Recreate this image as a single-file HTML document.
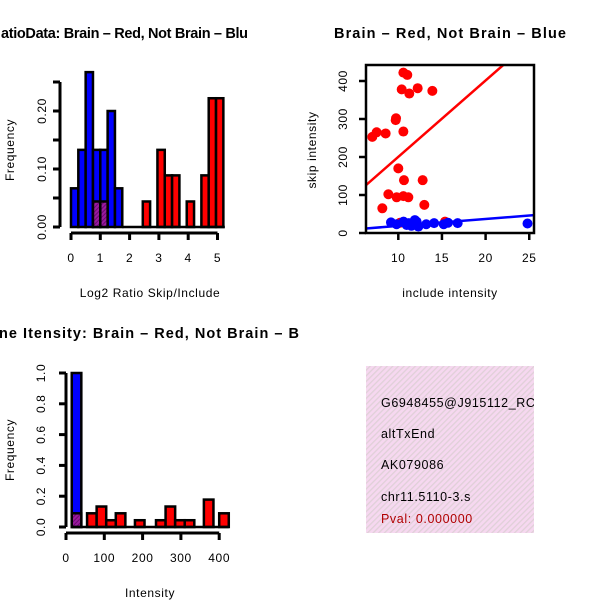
<!DOCTYPE html>
<html><head><meta charset="utf-8"><style>
html,body{margin:0;padding:0;background:#fff}
svg{display:block;font-family:"Liberation Sans",sans-serif}
svg text{letter-spacing:0.6px}
svg text.ttl{letter-spacing:0}
</style></head><body>
<svg id="s" width="600" height="600" viewBox="0 0 600 600">
<defs>
<pattern id="hatch" width="4" height="4" patternUnits="userSpaceOnUse" patternTransform="rotate(45)">
<rect width="4" height="4" fill="#f6d8f0"/><rect width="1.3" height="4" fill="#e0d0d8"/>
</pattern>
<pattern id="phatch" width="3" height="3" patternUnits="userSpaceOnUse" patternTransform="rotate(45)">
<rect width="3" height="3" fill="#9a1aa0"/><rect width="1" height="3" fill="#6a0a70"/>
</pattern>
<clipPath id="boxclip"><rect x="366" y="366" width="168" height="167"/></clipPath>
</defs>
<g id="p1"></g>
<g id="p2"></g>
<g id="p3"></g>
<g>
<rect x="366" y="366" width="168" height="167" fill="url(#hatch)"/>
<g clip-path="url(#boxclip)" font-size="12.5">
<text x="381" y="407">G6948455@J915112_RC</text>
<text x="381" y="438">altTxEnd</text>
<text x="381" y="469">AK079086</text>
<text x="381" y="501">chr11.5110-3.s</text>
<text x="381" y="523" fill="#b00000">Pval: 0.000000</text>
</g>
</g>
</svg>
<script>
// Plot 1 data: Log2 ratio histogram
const p1BlueLeft = [0,0.25,0.5,0.75,1.0,1.25,1.5];
const p1BlueFreq = [0.0667,0.133,0.267,0.133,0.133,0.2,0.0667];
const p1RedLeft = [0.75,1.0,2.45,2.95,3.2,3.45,3.95,4.45,4.7,4.95];
const p1RedFreq = [0.044,0.044,0.044,0.133,0.089,0.089,0.044,0.089,0.222,0.222];
const p1XTicks = [0,1,2,3,4,5];
const p1YTicks = ["0.00","0.10","0.20"];
const p1YTickVals = [0,0.05,0.1,0.15,0.2,0.25];
// Plot 2 data: scatter
const redX = [7.02,7.52,8.55,9.70,9.74,10.58,11.03,10.39,11.26,12.22,13.9,10.58,10.0,10.65,12.79,8.86,9.81,10.58,11.15,12.98,8.17,15.35,10.19];
const redY = [253,265,262,297,302,422,416,378,367,381,374,267,170,139,139,102,94,97,94,74,65,30,27];
const blueX = [9.16,9.8,10.6,11.2,11.9,12.3,11.5,13.2,14.1,15.2,15.7,16.8,10.96,12.1,24.8];
const blueY = [28,23,30,26,34,17,19,23,26,23,27,26,21,30,25];
const redFit = [-0.6,20.1];
const blueFit = [0.5,1.82];
const p2XTicks = [10,15,20,25];
const p2YTicks = [0,100,200,300,400];
// Plot 3 data: intensity histogram
const p3BlueLeft = [15];
const p3BlueFreq = [1.0];
const p3RedLeft = [15,55,80,105,130,180,235,260,285,310,360,400];
const p3RedFreq = [0.089,0.089,0.133,0.044,0.089,0.044,0.044,0.133,0.044,0.044,0.178,0.089];
const p3XTicks = [0,100,200,300,400];
const p3YTicks = ["0.0","0.2","0.4","0.6","0.8","1.0"];
const p3YTickVals = [0,0.2,0.4,0.6,0.8,1.0];

const NS="http://www.w3.org/2000/svg";
function mk(parent,tag,attrs){const e=document.createElementNS(NS,tag);for(const k in attrs)e.setAttribute(k,attrs[k]);parent.appendChild(e);return e;}
function txt(parent,s,attrs){const e=mk(parent,'text',attrs);e.textContent=s;return e;}

// ---- Plot 1
(function(){
const g=document.getElementById('p1');
const X=v=>71+v*29.3, Y=v=>227-v*580;
let t=txt(g,'atioData: Brain – Red, Not Brain – Blu',{x:1,y:38,'font-size':14.5,'font-weight':'bold','class':'ttl',textLength:247,lengthAdjust:'spacing'});

p1BlueLeft.forEach((l,i)=>{const r=mk(g,'rect',{x:X(l),y:Y(p1BlueFreq[i]),width:X(0.25)-X(0),height:Y(0)-Y(p1BlueFreq[i]),fill:'#0000ff',stroke:'#000','stroke-width':2.5});
});
p1RedLeft.forEach((l,i)=>{const ov=l<1.5;const r=mk(g,'rect',{x:X(l),y:Y(p1RedFreq[i]),width:X(0.25)-X(0),height:Y(0)-Y(p1RedFreq[i]),fill:ov?'url(#phatch)':'#ff0000',stroke:'#000','stroke-width':2.5});
});
mk(g,'line',{x1:X(p1BlueLeft[6]+0.25),x2:X(5.25),y1:Y(0),y2:Y(0),stroke:'#000','stroke-width':2.5});
const ya=mk(g,'g',{});
mk(ya,'line',{x1:60,x2:60,y1:Y(0),y2:Y(0.25),stroke:'#000','stroke-width':3});
p1YTickVals.forEach(v=>mk(ya,'line',{x1:53,x2:60,y1:Y(v),y2:Y(v),stroke:'#000','stroke-width':3}));
p1YTicks.forEach((s,i)=>{const v=[0,0.1,0.2][i];txt(ya,s,{x:0,y:0,'font-size':12,'text-anchor':'middle',transform:`translate(46,${Y(v)}) rotate(-90)`});});
const xa=mk(g,'g',{});
mk(xa,'line',{x1:X(0),x2:X(5),y1:233,y2:233,stroke:'#000','stroke-width':3});
p1XTicks.forEach(v=>{mk(xa,'line',{x1:X(v),x2:X(v),y1:233,y2:240,stroke:'#000','stroke-width':3});txt(xa,String(v),{x:X(v),y:262,'font-size':12,'text-anchor':'middle'});});
t=txt(g,'Log2 Ratio Skip/Include',{x:150,y:297,'font-size':12,'text-anchor':'middle'});
t=txt(g,'Frequency',{x:0,y:0,'font-size':12,'text-anchor':'middle',transform:'translate(14,150) rotate(-90)'});
})();

// ---- Plot 2
(function(){
const g=document.getElementById('p2');
const X=v=>311+v*8.73, Y=v=>233-v*0.38;
let t=txt(g,'Brain – Red, Not Brain – Blue',{x:334,y:38,'font-size':14.5,'font-weight':'bold','class':'ttl',textLength:232,lengthAdjust:'spacing'});

const cp=mk(g,'clipPath',{id:'p2clip'});mk(cp,'rect',{x:366,y:65,width:168,height:168});
const inner=mk(g,'g',{'clip-path':'url(#p2clip)'});
redX.forEach((x,i)=>{const c=mk(inner,'circle',{cx:X(x),cy:Y(redY[i]),r:5,fill:'#ff0000'});});
blueX.forEach((x,i)=>{const c=mk(inner,'circle',{cx:X(x),cy:Y(blueY[i]),r:5,fill:'#0000ff'});});
let l=mk(inner,'line',{x1:X(6),y1:Y(redFit[0]+redFit[1]*6),x2:X(26),y2:Y(redFit[0]+redFit[1]*26),stroke:'#ff0000','stroke-width':2.5});

l=mk(inner,'line',{x1:X(6),y1:Y(blueFit[0]+blueFit[1]*6),x2:X(26),y2:Y(blueFit[0]+blueFit[1]*26),stroke:'#0000ff','stroke-width':2.5});

const b=mk(g,'rect',{x:366,y:65,width:168,height:168,fill:'none',stroke:'#000','stroke-width':2.5});
const ya=mk(g,'g',{});
p2YTicks.forEach(v=>{mk(ya,'line',{x1:359,x2:366,y1:Y(v),y2:Y(v),stroke:'#000','stroke-width':2.5});txt(ya,String(v),{x:0,y:0,'font-size':12,'text-anchor':'middle',transform:`translate(347,${Y(v)}) rotate(-90)`});});
const xa=mk(g,'g',{});
p2XTicks.forEach(v=>{mk(xa,'line',{x1:X(v),x2:X(v),y1:233,y2:240,stroke:'#000','stroke-width':2.5});txt(xa,String(v),{x:X(v),y:262,'font-size':12,'text-anchor':'middle'});});
t=txt(g,'include intensity',{x:450,y:297,'font-size':12,'text-anchor':'middle'});
t=txt(g,'skip intensity',{x:0,y:0,'font-size':12,'text-anchor':'middle',transform:'translate(316,150) rotate(-90)'});
})();

// ---- Plot 3
(function(){
const g=document.getElementById('p3');
const X=v=>66+v*0.383, Y=v=>527-v*154;
let t=txt(g,'ne Itensity: Brain – Red, Not Brain – B',{x:-1,y:338,'font-size':14.5,'font-weight':'bold','class':'ttl',textLength:300,lengthAdjust:'spacing'});

const w=X(25)-X(0);
p3BlueLeft.forEach((l,i)=>{const r=mk(g,'rect',{x:X(l),y:Y(p3BlueFreq[i]),width:w,height:Y(0)-Y(p3BlueFreq[i]),fill:'#0000ff',stroke:'#000','stroke-width':2.5});
});
p3RedLeft.forEach((l,i)=>{const ov=l<40;const r=mk(g,'rect',{x:X(l),y:Y(p3RedFreq[i]),width:w,height:Y(0)-Y(p3RedFreq[i]),fill:ov?'url(#phatch)':'#ff0000',stroke:'#000','stroke-width':2.5});
});
mk(g,'line',{x1:X(15),x2:X(425),y1:Y(0),y2:Y(0),stroke:'#000','stroke-width':2.5});
const ya=mk(g,'g',{});
mk(ya,'line',{x1:66,x2:66,y1:Y(0),y2:Y(1),stroke:'#000','stroke-width':3});
p3YTickVals.forEach((v,i)=>{mk(ya,'line',{x1:59,x2:66,y1:Y(v),y2:Y(v),stroke:'#000','stroke-width':3});txt(ya,p3YTicks[i],{x:0,y:0,'font-size':12,'text-anchor':'middle',transform:`translate(45,${Y(v)}) rotate(-90)`});});
const xa=mk(g,'g',{});
mk(xa,'line',{x1:X(0),x2:X(400),y1:533,y2:533,stroke:'#000','stroke-width':3});
p3XTicks.forEach(v=>{mk(xa,'line',{x1:X(v),x2:X(v),y1:533,y2:540,stroke:'#000','stroke-width':3});txt(xa,String(v),{x:X(v),y:562,'font-size':12,'text-anchor':'middle'});});
t=txt(g,'Intensity',{x:150,y:597,'font-size':12,'text-anchor':'middle'});
t=txt(g,'Frequency',{x:0,y:0,'font-size':12,'text-anchor':'middle',transform:'translate(14,450) rotate(-90)'});
})();
</script>
</body></html>
